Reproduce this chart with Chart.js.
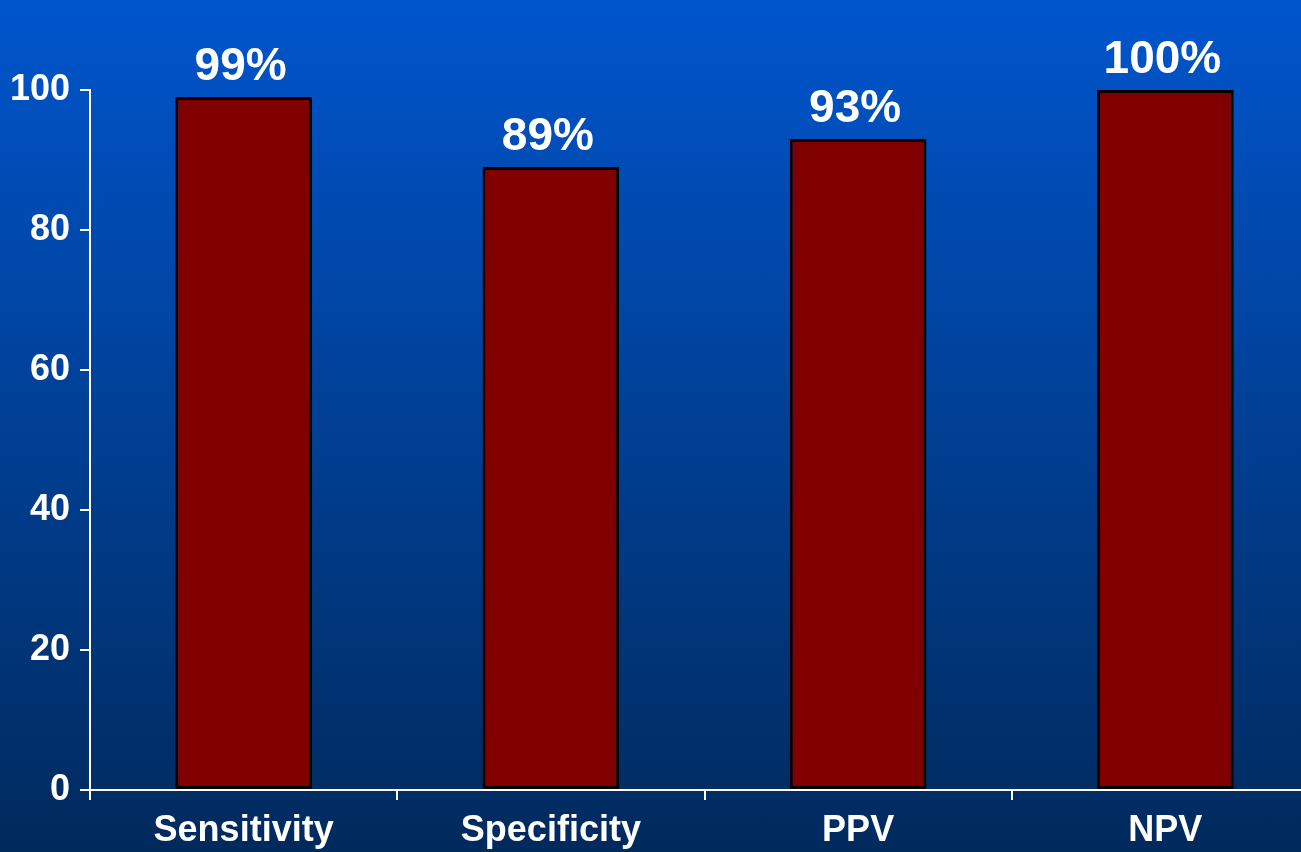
<!DOCTYPE html>
<html>
<head>
<meta charset="utf-8">
<title>Diagnostic performance</title>
<script src="https://cdn.jsdelivr.net/npm/chart.js@4/dist/chart.umd.min.js"></script>
<style>
  html, body {
    margin: 0;
    padding: 0;
    width: 1301px;
    height: 852px;
    overflow: hidden;
    background: linear-gradient(to bottom, #0055cd 0%, #002a5c 100%);
  }
  #wrap {
    position: absolute;
    left: 0;
    top: 0;
    width: 1320px;
    height: 852px;
  }
</style>
</head>
<body>
<div id="wrap"><canvas id="chart"></canvas></div>
<script>
// Test metrics (percent)
const categories = ['Sensitivity', 'Specificity', 'PPV', 'NPV'];
const values = [99, 89, 93, 100];
const valueLabels = ['99%', '89%', '93%', '100%'];
const yTicks = [0, 20, 40, 60, 80, 100];

const FONT = '"Liberation Sans", Arial, Helvetica, sans-serif';

// Percent labels printed above each bar
const valueLabelPlugin = {
  id: 'valueLabels',
  afterDatasetsDraw(chart) {
    const ctx = chart.ctx;
    const meta = chart.getDatasetMeta(0);
    ctx.save();
    ctx.font = 'bold 46px ' + FONT;
    ctx.fillStyle = '#ffffff';
    ctx.textAlign = 'center';
    ctx.textBaseline = 'alphabetic';
    meta.data.forEach((bar, i) => {
      ctx.fillText(valueLabels[i], bar.x - 3, bar.y - 17);
    });
    ctx.restore();
  }
};

new Chart(document.getElementById('chart'), {
  type: 'bar',
  data: {
    labels: categories,
    datasets: [{
      data: values,
      backgroundColor: '#800000',
      borderColor: '#000000',
      borderWidth: 3,
      borderSkipped: false,
      categoryPercentage: 1,
      barPercentage: 0.445
    }]
  },
  options: {
    responsive: true,
    maintainAspectRatio: false,
    animation: false,
    layout: { padding: { top: 90, right: 1, left: 0, bottom: 0 } },
    plugins: {
      legend: { display: false },
      tooltip: { enabled: false }
    },
    scales: {
      x: {
        grid: {
          display: true,
          drawOnChartArea: false,
          drawTicks: true,
          tickLength: 10,
          color: '#ffffff',
          lineWidth: 2,
          offset: true
        },
        border: { display: true, color: '#ffffff', width: 2 },
        ticks: {
          color: '#ffffff',
          font: { family: FONT, size: 36, weight: 'bold' },
          padding: 9,
          maxRotation: 0,
          autoSkip: false
        },
        afterFit(scale) { scale.height = 62; }
      },
      y: {
        min: 0,
        max: 100,
        afterBuildTicks(scale) {
          scale.ticks = yTicks.map(v => ({ value: v }));
        },
        grid: {
          display: true,
          drawOnChartArea: false,
          drawTicks: true,
          tickLength: 10,
          color: '#ffffff',
          lineWidth: 2
        },
        border: { display: true, color: '#ffffff', width: 2 },
        ticks: {
          color: '#ffffff',
          font: { family: FONT, size: 36, weight: 'bold' },
          padding: 10
        },
        afterFit(scale) { scale.width = 90; }
      }
    }
  },
  plugins: [valueLabelPlugin]
});
</script>
</body>
</html>
